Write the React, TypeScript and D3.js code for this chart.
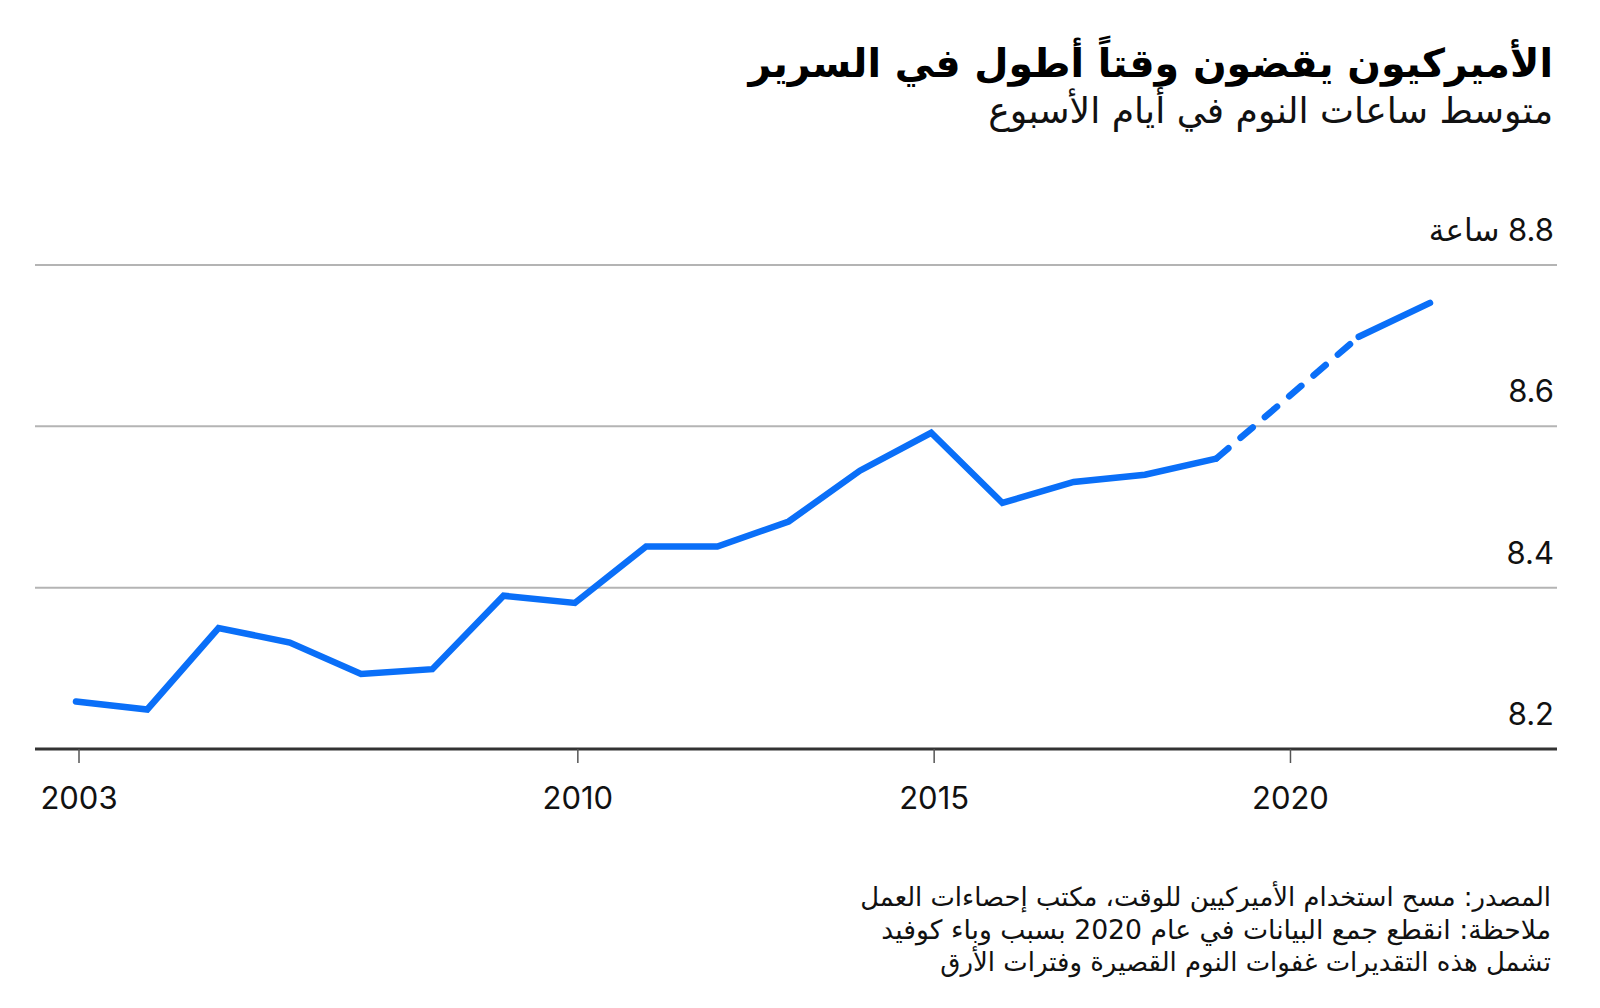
import React, { useLayoutEffect, useRef, useState } from "react";
import * as d3 from "d3";

const years = [2003, 2004, 2005, 2006, 2007, 2008, 2009, 2010, 2011, 2012, 2013, 2014, 2015, 2016, 2017, 2018, 2019, 2020, 2021, 2022];
const hours: (number | null)[] = [8.259, 8.249, 8.35, 8.332, 8.293, 8.299, 8.39, 8.381, 8.451, 8.451, 8.482, 8.545, 8.592, 8.505, 8.531, 8.54, 8.56, null, 8.711, 8.753];
const xTicks = [2003, 2010, 2015, 2020];
const yTicks = [8.2, 8.4, 8.6, 8.8];
const yUnit = "ساعة";

const title = "الأميركيون يقضون وقتاً أطول في السرير";
const subtitle = "متوسط ساعات النوم في أيام الأسبوع";
const notes = [
  "المصدر: مسح استخدام الأميركيين للوقت، مكتب إحصاءات العمل",
  "ملاحظة: انقطع جمع البيانات في عام 2020 بسبب وباء كوفيد",
  "تشمل هذه التقديرات غفوات النوم القصيرة وفترات الأرق",
];

const W = 1600;
const H = 1008;
const arabicFont = "'DejaVu Sans', sans-serif";
const numFont = "Inter, 'DejaVu Sans', sans-serif";
const blue = "#0a6ff8";

function FitText(props: {
  x: number;
  y: number;
  target: number;
  size: number;
  weight?: number;
  fill: string;
  children: string;
}) {
  const ref = useRef<SVGTextElement>(null);
  const [size, setSize] = useState(props.size);
  useLayoutEffect(() => {
    const el = ref.current;
    if (!el) return;
    const w = el.getComputedTextLength();
    if (w > 0) {
      const s = (size * props.target) / w;
      if (Math.abs(s - size) > 0.05) setSize(s);
    }
  }, [size, props.target]);
  return (
    <text
      ref={ref}
      x={props.x}
      y={props.y}
      direction="rtl"
      textAnchor="start"
      fontFamily={arabicFont}
      fontWeight={props.weight || 400}
      fontSize={size}
      fill={props.fill}
    >
      {props.children}
    </text>
  );
}

export default function App() {
  const x = d3.scaleLinear().domain([2003, 2022]).range([76, 1430]);
  const y = d3.scaleLinear().domain([8.2, 8.8]).range([749, 265]);
  const gridLeft = 35;
  const gridRight = 1557;

  const pts = years.map((yr, i) => ({ yr, v: hours[i] }));
  const solid = d3
    .line<{ yr: number; v: number | null }>()
    .defined((d) => d.v !== null)
    .x((d) => x(d.yr))
    .y((d) => y(d.v as number));

  const bridges: { yr: number; v: number }[][] = [];
  pts.forEach((p, i) => {
    if (p.v === null && (i === 0 || pts[i - 1].v !== null)) {
      let a = i - 1;
      while (a >= 0 && pts[a].v === null) a--;
      let b = i + 1;
      while (b < pts.length && pts[b].v === null) b++;
      if (a >= 0 && b < pts.length) {
        bridges.push([
          { yr: pts[a].yr, v: pts[a].v as number },
          { yr: pts[b].yr, v: pts[b].v as number },
        ]);
      }
    }
  });
  const dashLine = d3
    .line<{ yr: number; v: number }>()
    .x((d) => x(d.yr))
    .y((d) => y(d.v));

  return (
    <svg
      width={W}
      height={H}
      viewBox={`0 0 ${W} ${H}`}
      style={{ position: "absolute", left: 0, top: 0, background: "#fff" }}
    >
      <rect width={W} height={H} fill="#fff" />
      <FitText x={1553} y={77} target={805} size={42} weight={700} fill="#000">
        {title}
      </FitText>
      <FitText x={1553} y={123} target={565} size={31} fill="#111">
        {subtitle}
      </FitText>

      {yTicks.map((t) => (
        <g key={t}>
          {t !== 8.2 && (
            <line x1={gridLeft} x2={gridRight} y1={y(t)} y2={y(t)} stroke="#b4b4b4" strokeWidth={2} />
          )}
          <text
            x={1554}
            y={y(t) - 24}
            direction="rtl"
            textAnchor="start"
            fontFamily={numFont}
            fontSize={31}
            fill="#111"
          >
            {t === 8.8 ? `${t.toFixed(1)} ${yUnit}` : t.toFixed(1)}
          </text>
        </g>
      ))}

      <line x1={gridLeft} x2={gridRight} y1={y(8.2)} y2={y(8.2)} stroke="#333" strokeWidth={3} />
      {xTicks.map((t) => (
        <g key={t}>
          <line x1={x(t) + 3} x2={x(t) + 3} y1={y(8.2)} y2={y(8.2) + 14} stroke="#555" strokeWidth={1.5} />
          <text
            x={x(t) + 3}
            y={809}
            textAnchor="middle"
            fontFamily={numFont}
            fontSize={31}
            fill="#111"
          >
            {t}
          </text>
        </g>
      ))}

      <path
        d={solid(pts) || ""}
        fill="none"
        stroke={blue}
        strokeWidth={6.5}
        strokeLinecap="round"
        strokeLinejoin="miter"
      />
      {bridges.map((b, i) => (
        <path
          key={i}
          d={dashLine(b) || ""}
          fill="none"
          stroke={blue}
          strokeWidth={6.5}
          strokeLinecap="round"
          strokeDasharray="16 16"
        />
      ))}

      {notes.map((n, i) => (
        <FitText key={i} x={1551} y={906 + i * 32.5} target={[691, 670, 611][i]} size={23} fill="#111">
          {n}
        </FitText>
      ))}
    </svg>
  );
}
